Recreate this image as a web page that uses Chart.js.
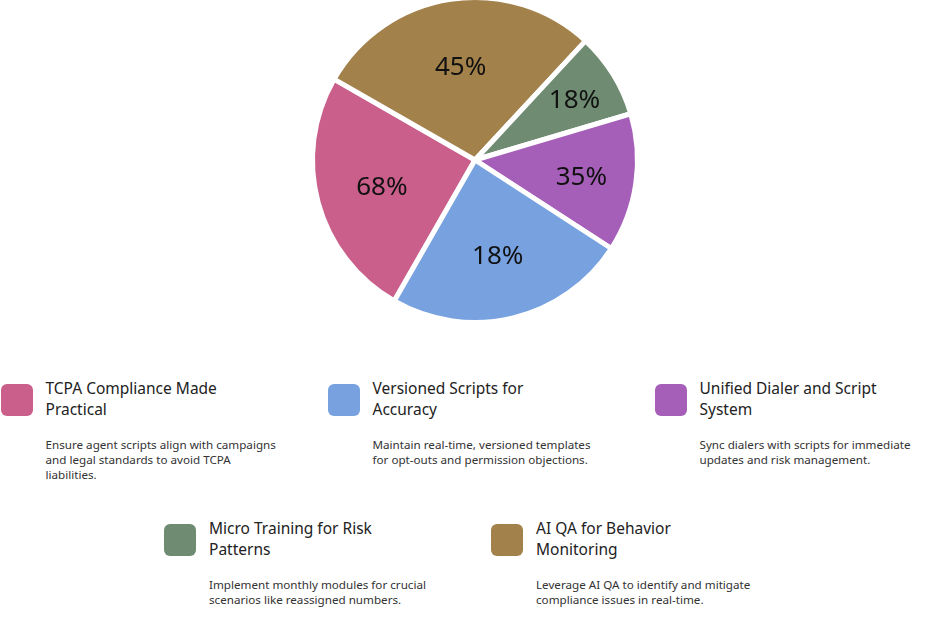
<!DOCTYPE html>
<html>
<head>
<meta charset="utf-8">
<script src="https://cdn.jsdelivr.net/npm/chart.js@4.4.1/dist/chart.umd.min.js"></script>
<style>
  html, body { margin: 0; padding: 0; background: #fff; }
  body { width: 950px; height: 626px; position: relative; overflow: hidden; font-family: "Noto Sans", "Open Sans", sans-serif; }
  #chartWrap { position: absolute; left: 0; top: -5px; width: 950px; height: 330px; }
  #legend { position: absolute; left: 0; top: 378px; width: 950px; display: flex; flex-wrap: wrap; justify-content: center; column-gap: 32px; }
  .item { width: 295px; height: 140px; display: flex; }
  .swatch { width: 32px; height: 32px; border-radius: 6px; margin-top: 6px; flex: none; }
  .text { margin-left: 13px; }
  .title { font-size: 15.5px; line-height: 21px; color: #222; max-width: 205px; }
  .desc { font-size: 11.65px; line-height: 15.2px; color: #333; margin-top: 17px; max-width: 232px; }
</style>
</head>
<body>
<div id="chartWrap"><canvas id="pieChart"></canvas></div>
<div id="legend"></div>
<script>
// legend order
const categories = ['TCPA Compliance Made Practical', 'Versioned Scripts for Accuracy', 'Unified Dialer and Script System', 'Micro Training for Risk Patterns', 'AI QA for Behavior Monitoring'];
const descriptions = [
    'Ensure agent scripts align with campaigns and legal standards to avoid TCPA liabilities.',
    'Maintain real-time, versioned templates for opt-outs and permission objections.',
    'Sync dialers with scripts for immediate updates and risk management.',
    'Implement monthly modules for crucial scenarios like reassigned numbers.',
    'Leverage AI QA to identify and mitigate compliance issues in real-time.'
];
const sliceShares = [25, 24.1, 13.75, 8.5, 28.6];
const sliceLabels = ['68%', '18%', '35%', '18%', '45%'];
const colors = ['#c95f8a', '#78a1e0', '#a65fb9', '#6f8b71', '#a3814b'];

// slices go round clockwise as pink, gold, green, purple, blue
const drawOrder = [0, 4, 3, 2, 1];

// build the legend
const legend = document.getElementById('legend');
categories.forEach((name, i) => {
    const item = document.createElement('div');
    item.className = 'item';
    item.innerHTML = '<div class="swatch" style="background:' + colors[i] + '"></div>' +
        '<div class="text"><div class="title">' + name + '</div><div class="desc">' + descriptions[i] + '</div></div>';
    legend.appendChild(item);
});

// percent text inside each slice, narrower slices put it further out
const sliceText = {
    id: 'sliceText',
    afterDatasetsDraw(chart) {
        const ctx = chart.ctx;
        const meta = chart.getDatasetMeta(0);
        const size = 26;
        ctx.save();
        ctx.font = size + 'px "Noto Sans", "Open Sans", sans-serif';
        ctx.fillStyle = '#111';
        ctx.textAlign = 'center';
        ctx.textBaseline = 'alphabetic';
        meta.data.forEach((arc, j) => {
            const p = arc.getProps(['x', 'y', 'startAngle', 'endAngle', 'outerRadius'], true);
            const mid = (p.startAngle + p.endAngle) / 2;
            const spanDeg = (p.endAngle - p.startAngle) * 180 / Math.PI;
            const d = Math.max(0, 103 - spanDeg);
            const r = p.outerRadius * (0.59 + 0.000025 * d * d);
            // centre the digits (cap height ~0.36em above baseline)
            ctx.fillText(chart.data.labels[j], p.x + Math.cos(mid) * r, p.y + Math.sin(mid) * r + size * 0.36);
        });
        ctx.restore();
    }
};

var ctx = document.getElementById('pieChart').getContext('2d');
var pieChart = new Chart(ctx, {
    type: 'pie',
    data: {
        labels: drawOrder.map(i => sliceLabels[i]),
        datasets: [{
            data: drawOrder.map(i => sliceShares[i]),
            backgroundColor: drawOrder.map(i => colors[i]),
            borderColor: '#ffffff',
            borderWidth: 5
        }]
    },
    options: {
        responsive: true,
        maintainAspectRatio: false,
        animation: false,
        rotation: 209.8,
        plugins: {
            legend: { display: false },
            tooltip: { enabled: false }
        }
    },
    plugins: [sliceText]
});
</script>
</body>
</html>
